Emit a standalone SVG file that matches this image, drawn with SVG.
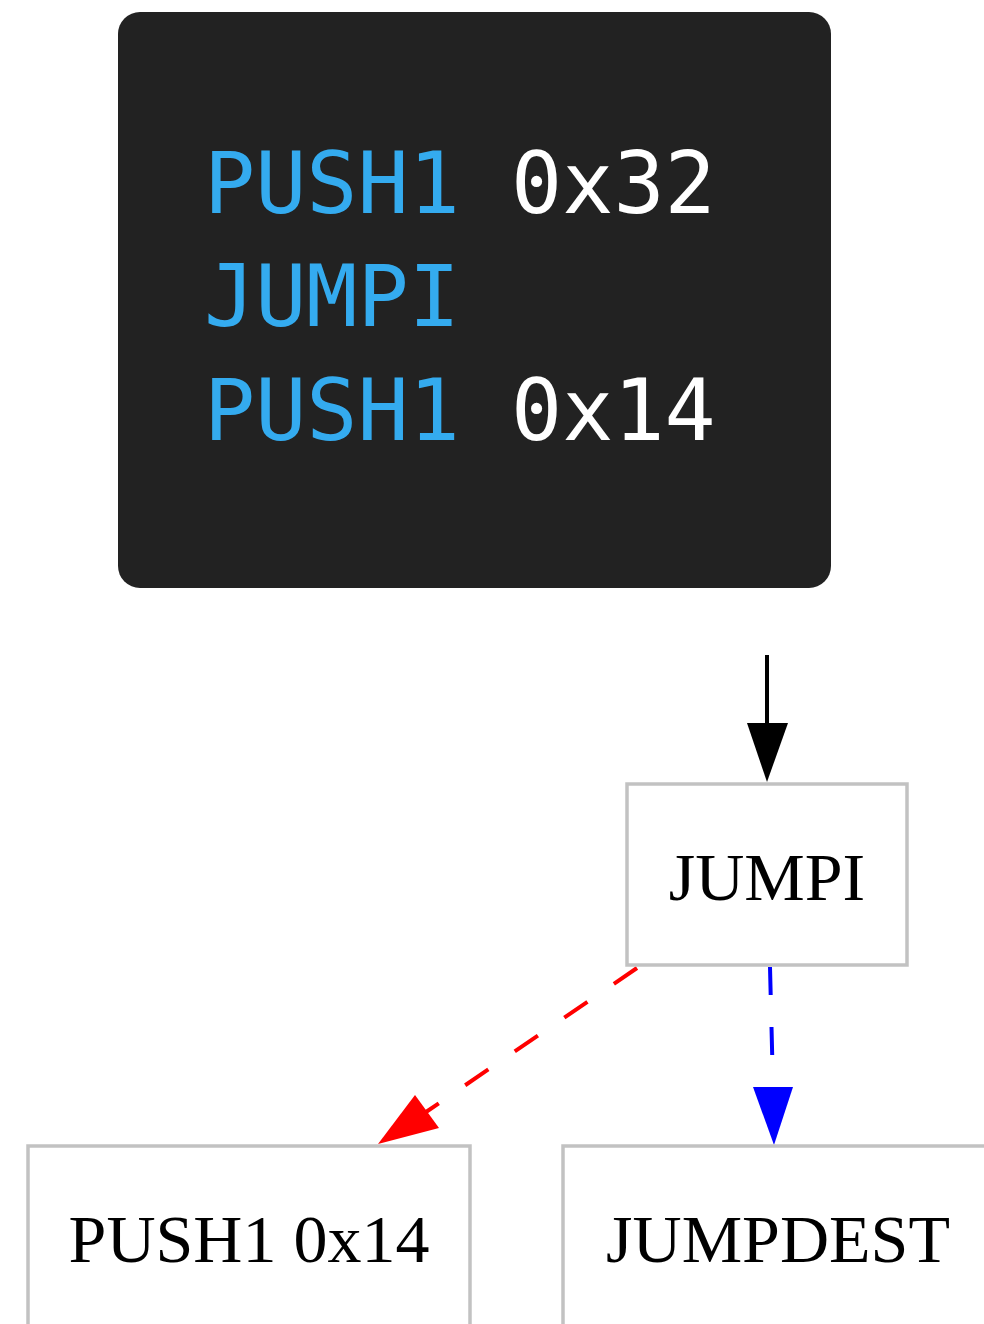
<svg xmlns="http://www.w3.org/2000/svg" width="984" height="1324" viewBox="0 0 984 1324">
<style>
.code{font-family:"DejaVu Sans Mono",monospace;font-size:85px}
.op{fill:#34abef}
.arg{fill:#ffffff}
.node rect{fill:#ffffff;stroke:#c2c2c2;stroke-width:3.5}
.node text{font-family:"Liberation Serif",serif;font-size:68px;fill:#000;text-anchor:middle}
.dash{stroke-width:4;stroke-dasharray:28,32;fill:none}
</style>
<rect width="984" height="1324" fill="#ffffff"/>
<g id="code-block">
<rect x="118" y="12" width="713" height="576" rx="22" fill="#222222"/>
<text class="code" x="204" y="213"><tspan class="op">PUSH1</tspan><tspan class="arg"> 0x32</tspan></text>
<text class="code op" x="204" y="326">JUMPI</text>
<text class="code" x="204" y="440"><tspan class="op">PUSH1</tspan><tspan class="arg"> 0x14</tspan></text>
</g>
<g id="connectors">
<line x1="767" y1="655" x2="767" y2="725" stroke="#000" stroke-width="4"/>
<polygon points="747,723 788,723 767,782" fill="#000"/>
<line class="dash" x1="637" y1="968" x2="426" y2="1112" stroke="#ff0000"/>
<polygon points="415,1095 439,1128 378,1144" fill="#ff0000"/>
<line class="dash" x1="770" y1="967" x2="773" y2="1087" stroke="#0000ff"/>
<polygon points="753,1087 793,1087 774,1145" fill="#0000ff"/>
</g>
<g id="jumpi" class="node">
<rect x="627" y="784" width="280" height="181"/>
<text x="767" y="900">JUMPI</text>
</g>
<g id="push1-0x14" class="node">
<rect x="28" y="1146" width="442" height="190"/>
<text x="249" y="1262">PUSH1 0x14</text>
</g>
<g id="jumpdest" class="node">
<rect x="563" y="1146" width="440" height="190"/>
<text x="778" y="1262">JUMPDEST</text>
</g>
</svg>
